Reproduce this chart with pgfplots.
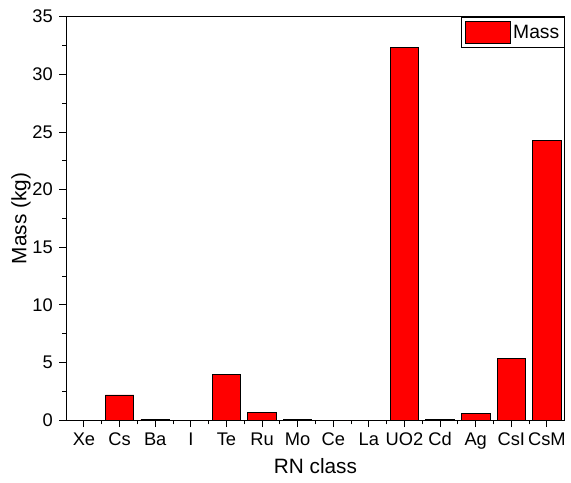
\documentclass[border={8pt 5pt 2pt 7pt}]{standalone}
\usepackage{fontspec}
\setmainfont{Liberation Sans}
\usepackage{pgfplots}
\pgfplotsset{compat=1.18}
\begin{document}
\begin{tikzpicture}
\begin{axis}[
  scale only axis, width=504pt, height=408pt,
  xmin=-0.5, xmax=13.5, ymin=0, ymax=35,
  ybar, bar width=0.8,
  xtick={0,...,13},
  xticklabels={Xe,Cs,Ba,I,Te,Ru,Mo,Ce,La,UO2,Cd,Ag,CsI,CsM},
  ytick={0,5,...,35},
  minor x tick num=1, minor y tick num=1,
  tick align=outside, xtick pos=bottom, ytick pos=left,
  major tick length=7pt, minor tick length=4pt,
  every tick/.style={black, line width=1pt},
  axis line style={line width=1pt},
  ticklabel style={font=\fontsize{18.5}{20}\selectfont},
  xticklabel style={yshift=-2pt},
  yticklabel style={xshift=-3pt},
  /pgf/number format/assume math mode=true,
  xlabel={RN class}, ylabel={Mass (kg)},
  label style={font=\fontsize{21}{23}\selectfont},
  xlabel style={yshift=-3pt},
  ylabel style={yshift=-5pt},
  legend style={at={(1,1)}, anchor=north east, draw=black, line width=1pt,
    font=\fontsize{19.5}{21}\selectfont, inner xsep=3pt, inner ysep=4pt},
  legend image code/.code={\draw[fill=red,draw=black,line width=0.8pt] (0pt,-11pt) rectangle (46pt,11pt);},
]
\addplot[fill=red, draw=black, line width=0.8pt] coordinates {
  (0,0) (1,2.2) (2,0.1) (3,0) (4,4.0) (5,0.7) (6,0.1)
  (7,0) (8,0) (9,32.3) (10,0.1) (11,0.6) (12,5.4) (13,24.3)
};
\legend{Mass}
\end{axis}
\end{tikzpicture}
\end{document}
